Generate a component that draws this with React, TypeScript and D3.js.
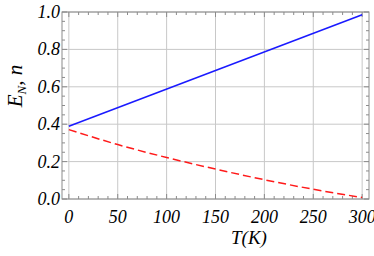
import React, { useEffect, useRef } from 'react';
import * as d3 from 'd3';

// temperature samples (K)
const blueT = [0, 300];
const blueValues = [0.389, 0.985];
const redT = [0, 50, 100, 150, 200, 250, 300];
const redValues = [0.371, 0.291, 0.222, 0.16, 0.103, 0.052, 0.008];
const xTicks = [0, 50, 100, 150, 200, 250, 300];
const yTicks = [0.0, 0.2, 0.4, 0.6, 0.8, 1.0];

const App = () => {
  const ref = useRef<SVGSVGElement>(null);

  useEffect(() => {
    const svg = d3.select(ref.current);
    svg.selectAll('*').remove();

    const left = 62;
    const right = 369;
    const top = 12;
    const bottom = 199;
    const font = "'Liberation Serif', 'Times New Roman', serif";

    const x = d3.scaleLinear().domain([-7, 307]).range([left, right]);
    const y = d3.scaleLinear().domain([0, 1]).range([bottom, top]);

    const g = svg.append('g').style('font-family', font).style('font-style', 'italic');

    // grid
    g.selectAll('.vgrid')
      .data(xTicks)
      .enter()
      .append('line')
      .attr('x1', d => x(d))
      .attr('x2', d => x(d))
      .attr('y1', top)
      .attr('y2', bottom)
      .attr('stroke', '#c8c8c8')
      .attr('stroke-width', 1);
    g.selectAll('.hgrid')
      .data(yTicks)
      .enter()
      .append('line')
      .attr('x1', left)
      .attr('x2', right)
      .attr('y1', d => y(d))
      .attr('y2', d => y(d))
      .attr('stroke', '#c8c8c8')
      .attr('stroke-width', 1);

    // frame
    g.append('rect')
      .attr('x', left)
      .attr('y', top)
      .attr('width', right - left)
      .attr('height', bottom - top)
      .attr('fill', 'none')
      .attr('stroke', '#8c8c8c')
      .attr('stroke-width', 1);

    // inward ticks on all sides
    const xMinor = d3.range(0, 301, 10).filter(v => v % 50 !== 0);
    const yMinor = d3.range(0, 1.001, 0.05).filter(v => Math.abs(v * 5 - Math.round(v * 5)) > 1e-6);
    const tickColor = '#8c8c8c';
    const drawX = (vals: number[], len: number) => {
      vals.forEach(v => {
        g.append('line').attr('x1', x(v)).attr('x2', x(v)).attr('y1', bottom).attr('y2', bottom - len).attr('stroke', tickColor);
        g.append('line').attr('x1', x(v)).attr('x2', x(v)).attr('y1', top).attr('y2', top + len).attr('stroke', tickColor);
      });
    };
    const drawY = (vals: number[], len: number) => {
      vals.forEach(v => {
        g.append('line').attr('x1', left).attr('x2', left + len).attr('y1', y(v)).attr('y2', y(v)).attr('stroke', tickColor);
        g.append('line').attr('x1', right).attr('x2', right - len).attr('y1', y(v)).attr('y2', y(v)).attr('stroke', tickColor);
      });
    };
    drawX(xTicks, 5);
    drawX(xMinor, 3);
    drawY(yTicks, 5);
    drawY(yMinor, 3);

    // tick labels
    g.selectAll('.xlab')
      .data(xTicks)
      .enter()
      .append('text')
      .attr('x', d => x(d))
      .attr('y', 223)
      .attr('text-anchor', 'middle')
      .attr('font-size', 18)
      .text(d => String(d));
    g.selectAll('.ylab')
      .data(yTicks)
      .enter()
      .append('text')
      .attr('x', 60)
      .attr('y', d => y(d) + 6)
      .attr('text-anchor', 'end')
      .attr('font-size', 18)
      .text(d => d.toFixed(1));

    // axis titles
    g.append('text')
      .attr('x', 249)
      .attr('y', 244)
      .attr('text-anchor', 'middle')
      .attr('font-size', 19)
      .text('T(K)');
    const yl = g
      .append('text')
      .attr('transform', 'translate(22, 86) rotate(-90)')
      .attr('text-anchor', 'middle')
      .attr('font-size', 21);
    yl.append('tspan').text('E');
    yl.append('tspan').attr('font-size', 13).attr('dy', 4).text('N');
    yl.append('tspan').attr('dy', -4).text(', n');

    // series
    const line = d3
      .line<number>()
      .x((d, i) => x(redT[i]))
      .y(d => y(d))
      .curve(d3.curveMonotoneX);
    const blueLine = d3
      .line<number>()
      .x((d, i) => x(blueT[i]))
      .y(d => y(d));

    g.append('path')
      .attr('d', blueLine(blueValues))
      .attr('fill', 'none')
      .attr('stroke', '#1a1aff')
      .attr('stroke-width', 1.5);
    g.append('path')
      .attr('d', line(redValues))
      .attr('fill', 'none')
      .attr('stroke', '#ff1a1a')
      .attr('stroke-width', 1.5)
      .attr('stroke-dasharray', '8,4');
  }, []);

  return <svg ref={ref} width={374} height={256} style={{ display: 'block', position: 'absolute', left: 0, top: 0 }} />;
};

export default App;
